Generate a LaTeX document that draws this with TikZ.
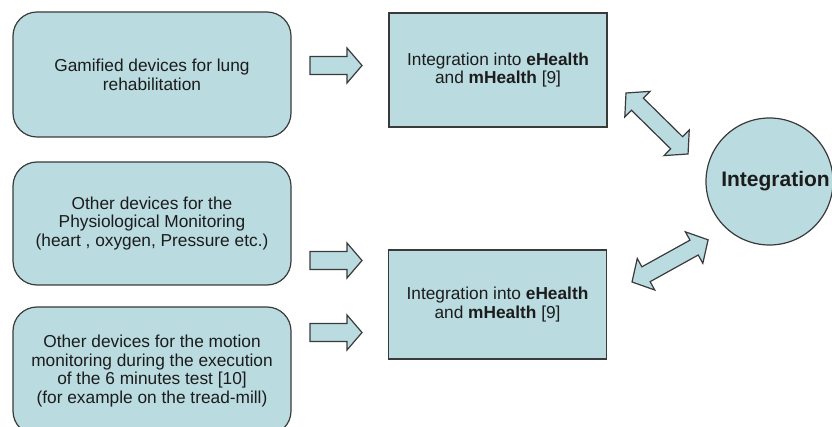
\documentclass[tikz,border=0pt]{standalone}
\usepackage{fontspec}
\setmainfont{Liberation Sans}

\definecolor{boxfill}{RGB}{186,219,224}
\definecolor{boxline}{RGB}{58,58,58}
\definecolor{ink}{RGB}{28,28,28}

\tikzset{
  txt/.style={font=\fontsize{17.3}{18.8}\selectfont, text=ink, align=center, inner sep=0pt},
  card/.style={txt, draw=boxline, fill=boxfill, line width=1.2pt, rounded corners=24pt, minimum width=278pt},
  panel/.style={txt, draw=boxline, fill=boxfill, line width=1.2pt, minimum width=218pt},
  hub/.style={circle, draw=boxline, fill=boxfill, line width=1.2pt, inner sep=0pt,
    minimum size=127pt, text=ink, font=\bfseries\fontsize{21}{24}\selectfont},
  blockarrow/.style={draw=boxline, fill=boxfill, line width=1.2pt, line join=miter},
  pics/fatarrow/.style={code={
    \draw[blockarrow] (0,-9) -- (37,-9) -- (37,-17.5) -- (52,0) -- (37,17.5) -- (37,9) -- (0,9) -- cycle;}},
  pics/twoway/.style={code={
    \draw[blockarrow] (0,0) -- (16,-18) -- (16,-8.5) -- (71,-8.5) -- (71,-18) -- (87,0)
      -- (71,18) -- (71,8.5) -- (16,8.5) -- (16,18) -- cycle;}}
}

\begin{document}
\begin{tikzpicture}[x=1pt,y=-1pt]
\useasboundingbox (0,0) rectangle (832,427);
\clip (0,0) rectangle (832,427);

% source devices
\node[card, minimum height=125pt] (lung) at (152,74.5)
  {Gamified devices for lung\\rehabilitation};
\node[card, minimum height=123pt] (physio) at (152,223.5)
  {Other devices for the\\Physiological Monitoring\\(heart , oxygen, Pressure etc.)};
\node[card, minimum height=128pt] (motion) at (152,371)
  {Other devices for the motion\\monitoring during the execution\\of the 6 minutes test [10]\\(for example on the tread-mill)};

% eHealth / mHealth integration blocks
\node[panel, minimum height=114pt] (ehA) at (498,70)
  {Integration into \textbf{eHealth}\\and \textbf{mHealth} [9]};
\node[panel, minimum height=109pt] (ehB) at (497.5,304.5)
  {Integration into \textbf{eHealth}\\and \textbf{mHealth} [9]};

% central integration (label sits a little right of centre)
\node[hub] (integ) at (769.5,181.5) {\hspace*{12pt}Integration};

% block arrows
\pic at (310,65.5) {fatarrow};
\pic at (310,260.5) {fatarrow};
\pic at (310,332.5) {fatarrow};
\pic[rotate=-44.5] at (626,93) {twoway};
\pic[rotate=29] at (632,282) {twoway};
\end{tikzpicture}
\end{document}
